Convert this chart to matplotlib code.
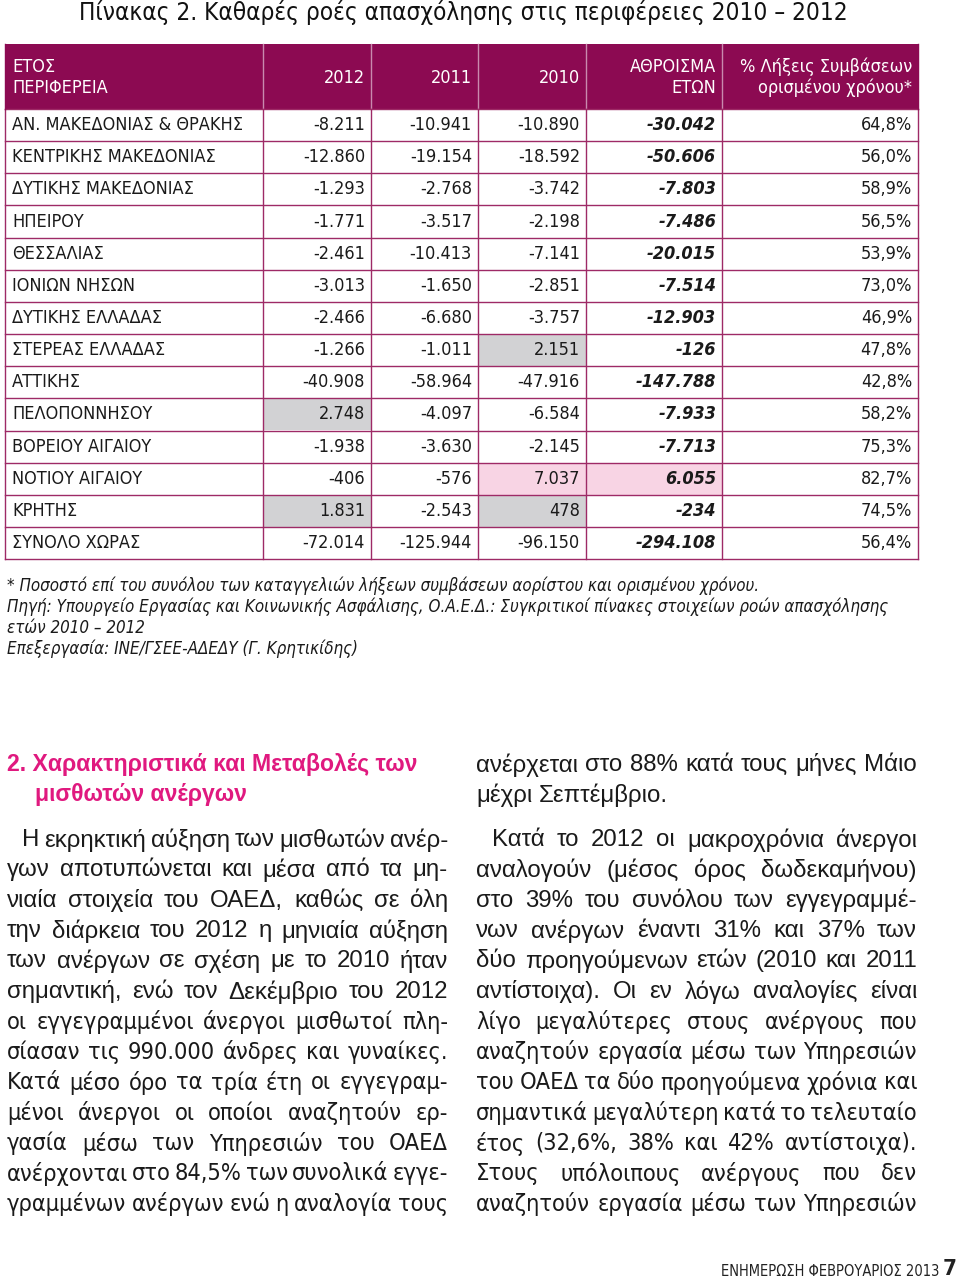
import matplotlib
matplotlib.use('Agg')
import matplotlib.pyplot as plt
from matplotlib import font_manager
from matplotlib.patches import Rectangle

# table data
regions = ['ΑΝ. ΜΑΚΕΔΟΝΙΑΣ & ΘΡΑΚΗΣ', 'ΚΕΝΤΡΙΚΗΣ ΜΑΚΕΔΟΝΙΑΣ', 'ΔΥΤΙΚΗΣ ΜΑΚΕΔΟΝΙΑΣ',
           'ΗΠΕΙΡΟΥ', 'ΘΕΣΣΑΛΙΑΣ', 'ΙΟΝΙΩΝ ΝΗΣΩΝ', 'ΔΥΤΙΚΗΣ ΕΛΛΑΔΑΣ', 'ΣΤΕΡΕΑΣ ΕΛΛΑΔΑΣ',
           'ΑΤΤΙΚΗΣ', 'ΠΕΛΟΠΟΝΝΗΣΟΥ', 'ΒΟΡΕΙΟΥ ΑΙΓΑΙΟΥ', 'ΝΟΤΙΟΥ ΑΙΓΑΙΟΥ', 'ΚΡΗΤΗΣ',
           'ΣΥΝΟΛΟ ΧΩΡΑΣ']
y2012 = [-8211, -12860, -1293, -1771, -2461, -3013, -2466, -1266, -40908, 2748, -1938, -406, 1831, -72014]
y2011 = [-10941, -19154, -2768, -3517, -10413, -1650, -6680, -1011, -58964, -4097, -3630, -576, -2543, -125944]
y2010 = [-10890, -18592, -3742, -2198, -7141, -2851, -3757, 2151, -47916, -6584, -2145, 7037, 478, -96150]
total = [-30042, -50606, -7803, -7486, -20015, -7514, -12903, -126, -147788, -7933, -7713, 6055, -234, -294108]
pct = [64.8, 56.0, 58.9, 56.5, 53.9, 73.0, 46.9, 47.8, 42.8, 58.2, 75.3, 82.7, 74.5, 56.4]

# highlighted cells (row, col) ; col 1=2012, 2=2011, 3=2010, 4=total
gray_cells = [(7, 3), (9, 1), (12, 1), (12, 3)]
pink_cells = [(11, 3), (11, 4)]

title = 'Πίνακας 2. Καθαρές ροές απασχόλησης στις περιφέρειες 2010 – 2012'
footnotes = ['* Ποσοστό επί του συνόλου των καταγγελιών λήξεων συμβάσεων αορίστου και ορισμένου χρόνου.',
             'Πηγή: Υπουργείο Εργασίας και Κοινωνικής Ασφάλισης, Ο.Α.Ε.Δ.: Συγκριτικοί πίνακες στοιχείων ροών απασχόλησης',
             'ετών 2010 – 2012',
             'Επεξεργασία: ΙΝΕ/ΓΣΕΕ-ΑΔΕΔΥ (Γ. Κρητικίδης)']

heading = ['2. Χαρακτηριστικά και Μεταβολές των', 'μισθωτών ανέργων']
left_lines = ['Η εκρηκτική αύξηση των μισθωτών ανέρ-',
              'γων αποτυπώνεται και μέσα από τα μη-',
              'νιαία στοιχεία του ΟΑΕΔ, καθώς σε όλη',
              'την διάρκεια του 2012 η μηνιαία αύξηση',
              'των ανέργων σε σχέση με το 2010 ήταν',
              'σημαντική, ενώ τον Δεκέμβριο του 2012',
              'οι εγγεγραμμένοι άνεργοι μισθωτοί πλη-',
              'σίασαν τις 990.000 άνδρες και γυναίκες.',
              'Κατά μέσο όρο τα τρία έτη οι εγγεγραμ-',
              'μένοι άνεργοι οι οποίοι αναζητούν ερ-',
              'γασία μέσω των Υπηρεσιών του ΟΑΕΔ',
              'ανέρχονται στο 84,5% των συνολικά εγγε-',
              'γραμμένων ανέργων ενώ η αναλογία τους']
right_top = ['ανέρχεται στο 88% κατά τους μήνες Μάιο', 'μέχρι Σεπτέμβριο.']
right_lines = ['Κατά το 2012 οι μακροχρόνια άνεργοι',
               'αναλογούν (μέσος όρος δωδεκαμήνου)',
               'στο 39% του συνόλου των εγγεγραμμέ-',
               'νων ανέργων έναντι 31% και 37% των',
               'δύο προηγούμενων ετών (2010 και 2011',
               'αντίστοιχα). Οι εν λόγω αναλογίες είναι',
               'λίγο μεγαλύτερες στους ανέργους που',
               'αναζητούν εργασία μέσω των Υπηρεσιών',
               'του ΟΑΕΔ τα δύο προηγούμενα χρόνια και',
               'σημαντικά μεγαλύτερη κατά το τελευταίο',
               'έτος (32,6%, 38% και 42% αντίστοιχα).',
               'Στους υπόλοιπους ανέργους που δεν',
               'αναζητούν εργασία μέσω των Υπηρεσιών']

names = {f.name for f in font_manager.fontManager.ttflist}
WIDE = 'Liberation Sans' if 'Liberation Sans' in names else 'DejaVu Sans'
if 'Liberation Sans Narrow' in names:
    NARROW = dict(family='Liberation Sans Narrow')
else:
    NARROW = dict(family='DejaVu Sans', fontstretch='condensed')

HEAD = '#8C0A52'
LINE = '#9E2A66'
MAGENTA = '#E0197F'

fig = plt.figure(figsize=(9.6, 12.79), dpi=100)
ax = fig.add_axes([0, 0, 1, 1])
ax.set_xlim(0, 960)
ax.set_ylim(1279, 0)
ax.axis('off')
renderer = fig.canvas.get_renderer()

# title
ax.text(463, 12, title, ha='center', va='center', fontsize=17.5, color='#111111', **NARROW)

# table geometry
xs = [5, 263, 371, 478, 586, 722, 918]
head_top, head_bot = 44, 109
row_h = 32.15
n = len(regions)
ax.add_patch(Rectangle((xs[0], head_top), xs[-1] - xs[0], head_bot - head_top,
                       facecolor=HEAD, edgecolor='none'))
for x in xs[1:-1]:
    ax.plot([x, x], [head_top, head_bot], color='#C98AAE', lw=1)

hk = dict(color='white', va='center', fontsize=13, **NARROW)
ax.text(12, 67, 'ΕΤΟΣ', ha='left', **hk)
ax.text(12, 88, 'ΠΕΡΙΦΕΡΕΙΑ', ha='left', **hk)
for x, lab in zip(xs[2:5], ['2012', '2011', '2010']):
    ax.text(x - 6, 78, lab, ha='right', **hk)
ax.text(xs[5] - 6, 67, 'ΑΘΡΟΙΣΜΑ', ha='right', **hk)
ax.text(xs[5] - 6, 88, 'ΕΤΩΝ', ha='right', **hk)
ax.text(xs[6] - 6, 67, '% Λήξεις Συμβάσεων', ha='right', **hk)
ax.text(xs[6] - 6, 88, 'ορισμένου χρόνου*', ha='right', **hk)


def fmt(v):
    return f'{v:,}'.replace(',', '.')


for r, c in gray_cells:
    ax.add_patch(Rectangle((xs[c], head_bot + r * row_h), xs[c + 1] - xs[c], row_h,
                           facecolor='#D2D2D4', edgecolor='none'))
for r, c in pink_cells:
    ax.add_patch(Rectangle((xs[c], head_bot + r * row_h), xs[c + 1] - xs[c], row_h,
                           facecolor='#F8D4E4', edgecolor='none'))

tk = dict(va='center', fontsize=13, color='#1A1A1A', **NARROW)
for i in range(n):
    yc = head_bot + (i + 0.5) * row_h
    ax.text(12, yc, regions[i], ha='left', **tk)
    for c, vals in zip([1, 2, 3], [y2012, y2011, y2010]):
        ax.text(xs[c + 1] - 6, yc, fmt(vals[i]), ha='right', **tk)
    ax.text(xs[5] - 6, yc, fmt(total[i]), ha='right', fontweight='bold', fontstyle='italic', **tk)
    ax.text(xs[6] - 6, yc, f'{pct[i]:.1f}%'.replace('.', ','), ha='right', **tk)

bottom = head_bot + n * row_h
for i in range(n + 1):
    y = head_bot + i * row_h
    ax.plot([xs[0], xs[-1]], [y, y], color=LINE, lw=1)
for x in xs:
    ax.plot([x, x], [head_bot, bottom], color=LINE, lw=1)
ax.plot([xs[0], xs[0]], [head_top, head_bot], color=HEAD, lw=1)
ax.plot([xs[-1], xs[-1]], [head_top, head_bot], color=HEAD, lw=1)

# footnotes
for k, t in enumerate(footnotes):
    ax.text(7, 586 + k * 21, t, ha='left', va='center', fontsize=12.2, fontstyle='italic',
            color='#1A1A1A', **NARROW)


def justify(line, x0, x1, y, last=False, **kw):
    words = line.split()
    texts = [ax.text(0, y, w, ha='left', va='center', **kw) for w in words]
    widths = [t.get_window_extent(renderer).width for t in texts]
    if last or len(words) == 1:
        sp = ax.text(0, y, 'a a', **kw)
        sp2 = ax.text(0, y, 'aa', **kw)
        gap = sp.get_window_extent(renderer).width - sp2.get_window_extent(renderer).width
        sp.remove()
        sp2.remove()
    else:
        gap = (x1 - x0 - sum(widths)) / (len(words) - 1)
    x = x0
    for t, w in zip(texts, widths):
        t.set_x(x)
        x += w + gap


body_wide = dict(fontsize=17.3, color='#1A1A1A', family=WIDE)
body_narrow = dict(fontsize=16.9, color='#1A1A1A', **NARROW)

# left column
ax.text(7, 765, heading[0], ha='left', va='center', fontsize=16.6, fontweight='bold',
        color=MAGENTA, family=WIDE)
ax.text(35, 795, heading[1], ha='left', va='center', fontsize=16.6, fontweight='bold',
        color=MAGENTA, family=WIDE)
line_step = 30.35
for k, line in enumerate(left_lines):
    y = 840 + k * line_step
    x0 = 22 if k == 0 else 7
    kw = body_wide if k < 6 else body_narrow
    justify(line, x0, 448, y, **kw)

# right column
justify(right_top[0], 476, 917, 765, **body_wide)
justify(right_top[1], 476, 917, 795, last=True, **body_wide)
for k, line in enumerate(right_lines):
    y = 840 + k * line_step
    x0 = 492 if k == 0 else 476
    kw = body_wide if k < 6 else body_narrow
    justify(line, x0, 917, y, **kw)

# footer
ax.text(939, 1272, 'ΕΝΗΜΕΡΩΣΗ ΦΕΒΡΟΥΑΡΙΟΣ 2013', ha='right', va='center', fontsize=10.5,
        color='#222222', **NARROW)
ax.text(943, 1269, '7', ha='left', va='center', fontsize=16, fontweight='bold',
        color='#222222', **NARROW)

fig.savefig('out.png', dpi=100, facecolor='white')
